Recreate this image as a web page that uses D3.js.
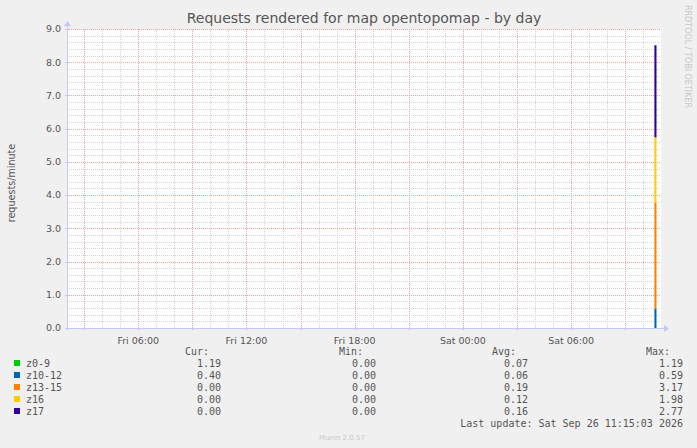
<!DOCTYPE html>
<html>
<head>
<meta charset="utf-8">
<script src="https://cdn.jsdelivr.net/npm/d3@7"></script>
<style>
  body { margin: 0; background: #f0f0f0; }
  svg { display: block; }
</style>
</head>
<body>
<script>
// samples (local time); everything outside the spike is zero
const times  = ["2026-09-25T02:00", "2026-09-26T10:37", "2026-09-26T10:44", "2026-09-26T11:00"];
const z0_9   = [0, 0, 0, 0];
const z10_12 = [0, 0.59, 0, 0];
const z13_15 = [0, 3.17, 0, 0];
const z16    = [0, 1.98, 0, 0];
const z17    = [0, 2.77, 0, 0];

const seriesNames = ["z0-9", "z10-12", "z13-15", "z16", "z17"];
const seriesColors = ["#00cc00", "#0066b3", "#ff8000", "#ffcc00", "#330099"];
const curVals = ["1.19", "0.40", "0.00", "0.00", "0.00"];
const minVals = ["0.00", "0.00", "0.00", "0.00", "0.00"];
const avgVals = ["0.07", "0.06", "0.19", "0.12", "0.16"];
const maxVals = ["1.19", "0.59", "3.17", "1.98", "2.77"];
const yTicks = [0, 1, 2, 3, 4, 5, 6, 7, 8, 9];

const W = 697, H = 448;
const plot = { left: 67, right: 661, top: 29, bottom: 328 };

const svg = d3.select("body").append("svg")
    .attr("width", W)
    .attr("height", H);

svg.append("rect").attr("width", W).attr("height", H).attr("fill", "#f0f0f0");

const parse = d3.timeParse("%Y-%m-%dT%H:%M");
const x = d3.scaleTime()
    .domain([parse("2026-09-25T02:03"), parse("2026-09-26T10:59")])
    .range([plot.left, plot.right]);
const y = d3.scaleLinear().domain([0, 9]).range([plot.bottom, plot.top]);

// plot background
svg.append("rect")
    .attr("x", plot.left).attr("y", plot.top)
    .attr("width", plot.right - plot.left).attr("height", plot.bottom - plot.top)
    .attr("fill", "#ffffff");

const grid = svg.append("g")
    .attr("fill", "none")
    .attr("stroke-width", 1)
    .attr("stroke-dasharray", "1,1")
    .attr("shape-rendering", "crispEdges");

const minorColor = "#d4d4d4", majorColor = "#f2a0a0";

// minor horizontal grid
grid.selectAll(".hmin")
  .data(d3.range(0, 45).map(i => i * 0.2).filter(v => Math.abs(v - Math.round(v)) > 1e-6))
  .enter().append("line")
    .attr("x1", plot.left).attr("x2", plot.right)
    .attr("y1", d => Math.round(y(d)) + 0.5).attr("y2", d => Math.round(y(d)) + 0.5)
    .attr("stroke", minorColor);

// minor vertical grid (hours)
const hours = d3.timeHour.range(x.domain()[0], x.domain()[1]);
grid.selectAll(".vmin")
  .data(hours.filter(d => d.getHours() % 3 !== 0))
  .enter().append("line")
    .attr("y1", plot.top).attr("y2", plot.bottom)
    .attr("x1", d => Math.round(x(d)) + 0.5).attr("x2", d => Math.round(x(d)) + 0.5)
    .attr("stroke", minorColor);

// major grid
grid.selectAll(".hmaj")
  .data(yTicks.filter(d => d > 0))
  .enter().append("line")
    .attr("x1", plot.left).attr("x2", plot.right)
    .attr("y1", d => Math.round(y(d)) + 0.5).attr("y2", d => Math.round(y(d)) + 0.5)
    .attr("stroke", majorColor);

grid.selectAll(".vmaj")
  .data(hours.filter(d => d.getHours() % 3 === 0))
  .enter().append("line")
    .attr("y1", plot.top).attr("y2", plot.bottom + 3)
    .attr("x1", d => Math.round(x(d)) + 0.5).attr("x2", d => Math.round(x(d)) + 0.5)
    .attr("stroke", majorColor);

// stacked areas
const data = times.map((t, i) => ({
  time: parse(t),
  "z0-9": z0_9[i], "z10-12": z10_12[i], "z13-15": z13_15[i], "z16": z16[i], "z17": z17[i]
}));
const layers = d3.stack().keys(seriesNames)(data);

svg.append("clipPath").attr("id", "clip")
  .append("rect")
    .attr("x", plot.left).attr("y", plot.top - 5)
    .attr("width", plot.right - plot.left).attr("height", plot.bottom - plot.top + 5);

const area = d3.area()
    .curve(d3.curveStepAfter)
    .x(d => x(d.data.time))
    .y0(d => y(d[0]))
    .y1(d => y(d[1]));

svg.append("g").attr("clip-path", "url(#clip)")
  .selectAll("path")
  .data(layers)
  .enter().append("path")
    .attr("fill", (d, i) => seriesColors[i])
    .attr("d", area);

// axes lines with arrows
const axisColor = "#c4c8f4";
const axes = svg.append("g").attr("shape-rendering", "crispEdges");
axes.append("line")
    .attr("x1", plot.left - 2).attr("x2", plot.right + 4)
    .attr("y1", plot.bottom + 0.5).attr("y2", plot.bottom + 0.5)
    .attr("stroke", axisColor);
axes.append("line")
    .attr("x1", plot.left + 0.5).attr("x2", plot.left + 0.5)
    .attr("y1", plot.bottom + 2).attr("y2", plot.top - 4)
    .attr("stroke", axisColor);
svg.append("path")
    .attr("d", `M${plot.right + 3},${plot.bottom - 3} L${plot.right + 8},${plot.bottom + 0.5} L${plot.right + 3},${plot.bottom + 4} Z`)
    .attr("fill", axisColor);
svg.append("path")
    .attr("d", `M${plot.left - 3},${plot.top - 3} L${plot.left + 0.5},${plot.top - 8} L${plot.left + 4},${plot.top - 3} Z`)
    .attr("fill", axisColor);

// small ticks on y axis
axes.selectAll(".ytick")
  .data(yTicks)
  .enter().append("line")
    .attr("x1", plot.left - 2).attr("x2", plot.left + 2)
    .attr("y1", d => Math.round(y(d)) + 0.5).attr("y2", d => Math.round(y(d)) + 0.5)
    .attr("stroke", axisColor);

const textColor = "#555555";
const sans = "DejaVu Sans, sans-serif";
const mono = "DejaVu Sans Mono, monospace";

// y tick labels
svg.append("g")
    .attr("font-family", sans).attr("font-size", 9.5).attr("fill", textColor)
    .attr("text-anchor", "end")
  .selectAll("text")
  .data(yTicks)
  .enter().append("text")
    .attr("x", plot.left - 6)
    .attr("y", d => y(d))
    .attr("dy", "0.35em")
    .text(d => d3.format(".1f")(d));

// x tick labels
svg.append("g")
    .attr("font-family", sans).attr("font-size", 9.5).attr("fill", textColor)
    .attr("text-anchor", "middle")
  .selectAll("text")
  .data(hours.filter(d => d.getHours() % 6 === 0))
  .enter().append("text")
    .attr("x", d => x(d))
    .attr("y", plot.bottom + 16)
    .text(d3.timeFormat("%a %H:%M"));

// title
svg.append("text")
    .attr("x", 364).attr("y", 23)
    .attr("text-anchor", "middle")
    .attr("font-family", sans).attr("font-size", 14).attr("fill", textColor)
    .text("Requests rendered for map opentopomap - by day");

// y axis label
svg.append("text")
    .attr("transform", "translate(15,183) rotate(-90)")
    .attr("text-anchor", "middle")
    .attr("font-family", sans).attr("font-size", 9.6).attr("fill", textColor)
    .text("requests/minute");

// watermark
svg.append("text")
    .attr("transform", "translate(685,5) rotate(90)")
    .attr("font-family", sans).attr("font-size", 8).attr("fill", "#c8c8c8")
    .text("RRDTOOL / TOBI OETIKER");

// legend
const legend = svg.append("g").attr("font-family", mono).attr("font-size", 10).attr("fill", textColor);
const headerY = 355;
const rowY = i => 367 + i * 12;
[["Cur:", 209], ["Min:", 363], ["Avg:", 516], ["Max:", 670]].forEach(([t, xr]) => {
  legend.append("text").attr("x", xr).attr("y", headerY).attr("text-anchor", "end").text(t);
});
const cols = [[curVals, 221], [minVals, 376], [avgVals, 528], [maxVals, 683]];

const rows = legend.selectAll(".row")
  .data(seriesNames)
  .enter().append("g");

rows.append("rect")
    .attr("x", 14).attr("y", (d, i) => rowY(i) - 7)
    .attr("width", 6).attr("height", 6)
    .attr("fill", (d, i) => seriesColors[i]);

rows.append("text")
    .attr("x", 26).attr("y", (d, i) => rowY(i))
    .text(d => d);

cols.forEach(([vals, xr]) => {
  rows.append("text")
      .attr("x", xr).attr("y", (d, i) => rowY(i))
      .attr("text-anchor", "end")
      .text((d, i) => vals[i]);
});

legend.append("text")
    .attr("x", 683).attr("y", 427)
    .attr("text-anchor", "end")
    .text("Last update: Sat Sep 26 11:15:03 2026");

svg.append("text")
    .attr("x", 342).attr("y", 440)
    .attr("text-anchor", "middle")
    .attr("font-family", sans).attr("font-size", 7).attr("fill", "#c8c8c8")
    .text("Munin 2.0.57");
</script>
</body>
</html>
